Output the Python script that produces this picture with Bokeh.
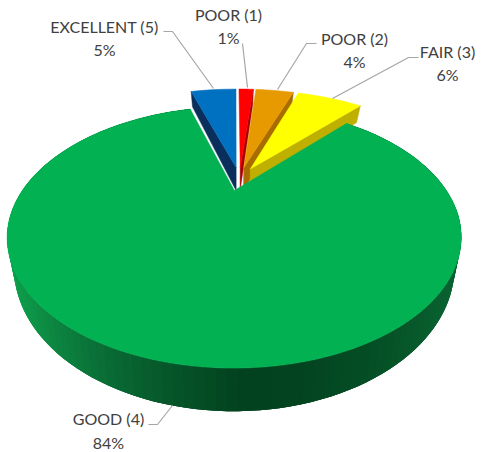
import numpy as np
from bokeh.plotting import figure
from bokeh.core.properties import value
from bokeh.embed import file_html
from bokeh.resources import INLINE

categories = ["POOR (1)", "POOR (2)", "FAIR (3)", "GOOD (4)", "EXCELLENT (5)"]
values = [1.45, 3.8, 6.4, 83.8, 4.55]
top_colors = ["#ff0000", "#e69a00", "#ffff00", "#02b152", "#0070c0"]
face_colors = ["#a80000", "#a86c00", "#bfb000", "#00703a", "#0b2f5c"]

# label layout in reference pixels
label_x = [228, 354, 447, 108, 104]
name_y = [14, 38, 51, 418, 26]
pct_y = [37, 61, 74, 442, 49]
leaders = [
    ([242, 247], [43, 87]),
    ([316, 306, 277], [43, 43, 89]),
    ([418, 408, 332], [57, 57, 98]),
    ([148, 157, 172], [424, 424, 405]),
    ([163, 172, 213], [31, 31, 88]),
]

# camera model
OX, OY, A, B, K = 235.0, 190.0, 212.0, 114.0, 0.359
EXPLODE, CENTER = 0.11, (0.019, 0.108)
SIDE_SCALE, D0, D1, DREF = 0.97, 23.0, 0.10, 167.0


def top(x, y):
    w = 1 + K * y
    return OX + A * x / w, OY - B * y / w


def bottom(x, y):
    sx, sy = top(x, y)
    return OX + SIDE_SCALE * (sx - OX), sy + D0 + D1 * (sy - DREF)


def shade(px):
    xs = [10, 50, 100, 170, 240, 300, 380, 460]
    rgb = np.array([[14, 160, 76], [13, 135, 66], [10, 110, 54], [6, 85, 42],
                    [3, 66, 31], [3, 68, 32], [5, 80, 38], [11, 100, 50]], float)
    c = [int(np.interp(px, xs, rgb[:, i])) for i in range(3)]
    return "#%02x%02x%02x" % tuple(c)


p = figure(width=481, height=452, x_range=(0, 481), y_range=(452, 0),
           x_axis_type=None, y_axis_type=None, toolbar_location=None,
           output_backend="svg", min_border=0, outline_line_color=None)
p.grid.visible = False

total = sum(values)
cum = np.cumsum([0] + values) / total * 2 * np.pi
slices = []
for i, v in enumerate(values):
    a0, a1 = cum[i], cum[i + 1]
    mid = (a0 + a1) / 2
    cx = CENTER[0] + EXPLODE * np.sin(mid)
    cy = CENTER[1] + EXPLODE * np.cos(mid)
    r = 1.0 if v > 50 else 1.09
    th = np.linspace(a0, a1, max(8, int((a1 - a0) * 30)))
    slices.append((i, cx, cy, r, th))

order = [4, 0, 1, 2, 3]  # back slices first, the large slice last
for i in order:
    _, cx, cy, r, th = slices[i]
    ax, ay = cx + r * np.sin(th), cy + r * np.cos(th)
    if values[i] > 50:
        tx, ty = top(ax, ay)
        bx, by = bottom(ax, ay)
        # paint wide overlapping bands in order so that no seams show between them
        for j in range(len(th) - 1):
            e = min(j + 3, len(th) - 1)
            col = shade((tx[j] + tx[j + 1]) / 2)
            p.patch(np.r_[tx[j:e + 1], bx[j:e + 1][::-1]],
                    np.r_[ty[j:e + 1], by[j:e + 1][::-1]],
                    fill_color=col, line_color=None)
    else:
        # radial wall that faces the viewer: left wall left of centre, right wall otherwise
        k = 0 if (th[0] + th[-1]) / 2 > np.pi else -1
        ex, ey = ax[k], ay[k]
        t0, t1 = top(cx, cy), top(ex, ey)
        b0, b1 = bottom(cx, cy), bottom(ex, ey)
        p.patch([t0[0], t1[0], b1[0], b0[0]], [t0[1], t1[1], b1[1], b0[1]],
                fill_color=face_colors[i], line_color=face_colors[i], line_width=0.5)
    tx, ty = top(np.r_[cx, ax], np.r_[cy, ay])
    p.patch(tx, ty, fill_color=top_colors[i], line_color=top_colors[i], line_width=0.5)

for lx, ly in leaders:
    p.line(lx, ly, line_color="#a6a6a6", line_width=1.2)

pct = [f"{round(v)}%" for v in values]
for ys, txt in ((name_y, categories), (pct_y, pct)):
    p.text(label_x, ys, text=txt, text_align="center", text_baseline="middle",
           text_font=value("Lato"), text_font_size=value("16px"), text_color="#404040")

open("out.html", "w").write(file_html(p, INLINE))
